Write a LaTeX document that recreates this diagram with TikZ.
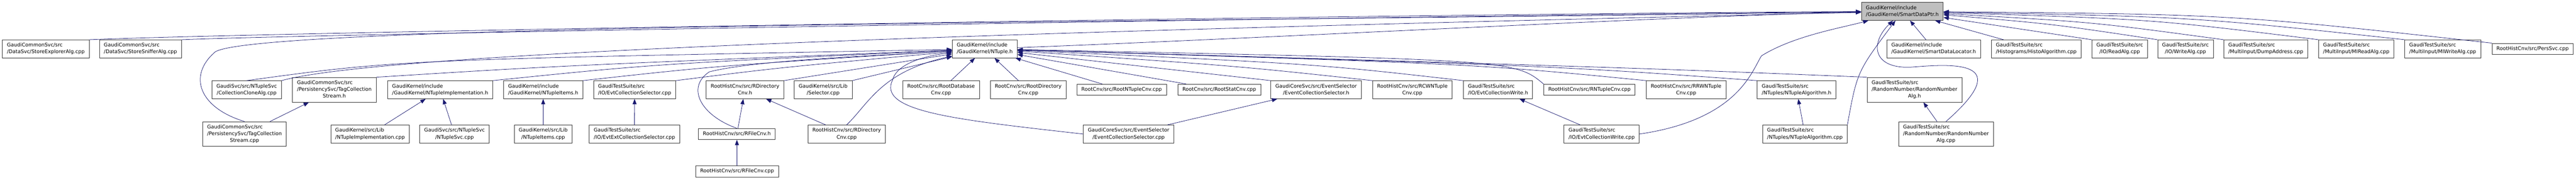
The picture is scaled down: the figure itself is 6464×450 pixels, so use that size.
\documentclass[tikz,border=0pt]{standalone}
\usepackage{fontspec}
\setmainfont{DejaVu Sans}
\usepackage{tikz}
\usetikzlibrary{arrows.meta}
\definecolor{edgeblue}{HTML}{191970}
\newcommand{\flbl}[2]{\begin{tabular}{@{}l@{}}#1\\\multicolumn{1}{@{}c@{}}{#2}\end{tabular}}
\newcommand{\olbl}[1]{\begin{tabular}{@{}c@{}}#1\end{tabular}}
\tikzstyle{srcfile} = [rectangle,draw=black!80,line width=0.75pt,fill=white,inner xsep=8.5pt,inner ysep=4.125pt,font=\fontsize{9.5}{12.75}\selectfont]
\tikzstyle{mainfile} = [srcfile,fill=black!25]
\tikzstyle{incarrow} = [draw=edgeblue,line width=0.75pt,-{Triangle[length=10pt,width=7.5pt]}]

\begin{document}
\begin{tikzpicture}[x=0.75pt,y=-0.75pt]
	\useasboundingbox (0,0) rectangle (6464,450);
	\node (ptr) [mainfile] at (4773.5,28.5) {\flbl{GaudiKernel/include}{/GaudiKernel/SmartDataPtr.h}};

	\node (explorer) [srcfile] at (115,122.5) {\flbl{GaudiCommonSvc/src}{/DataSvc/StoreExplorerAlg.cpp}};
	\node (sniffer) [srcfile] at (352.5,122.5) {\flbl{GaudiCommonSvc/src}{/DataSvc/StoreSnifferAlg.cpp}};
	\node (ntuple) [srcfile] at (2471,122.5) {\flbl{GaudiKernel/include}{/GaudiKernel/NTuple.h}};
	\node (locator) [srcfile] at (4852,122.5) {\flbl{GaudiKernel/include}{/GaudiKernel/SmartDataLocator.h}};
	\node (histo) [srcfile] at (5109.5,122.5) {\flbl{GaudiTestSuite/src}{/Histograms/HistoAlgorithm.cpp}};
	\node (readalg) [srcfile] at (5319,122.5) {\flbl{GaudiTestSuite/src}{/IO/ReadAlg.cpp}};
	\node (writealg) [srcfile] at (5484,122.5) {\flbl{GaudiTestSuite/src}{/IO/WriteAlg.cpp}};
	\node (dumpaddr) [srcfile] at (5685.5,122.5) {\flbl{GaudiTestSuite/src}{/MultiInput/DumpAddress.cpp}};
	\node (miread) [srcfile] at (5912.5,122.5) {\flbl{GaudiTestSuite/src}{/MultiInput/MIReadAlg.cpp}};
	\node (miwrite) [srcfile] at (6129.5,122.5) {\flbl{GaudiTestSuite/src}{/MultiInput/MIWriteAlg.cpp}};
	\node (perssvc) [srcfile] at (6355,122.5) {\olbl{RootHistCnv/src/PersSvc.cpp}};

	\node (clone) [srcfile] at (619,225) {\flbl{GaudiSvc/src/NTupleSvc}{/CollectionCloneAlg.cpp}};
	\node (tagh) [srcfile] at (839,225) {\flbl{GaudiCommonSvc/src\\/PersistencySvc/TagCollection}{Stream.h}};
	\node (implh) [srcfile] at (1104.5,225) {\flbl{GaudiKernel/include}{/GaudiKernel/NTupleImplementation.h}};
	\node (itemsh) [srcfile] at (1363,225) {\flbl{GaudiKernel/include}{/GaudiKernel/NTupleItems.h}};
	\node (evtsel) [srcfile] at (1592.5,225) {\flbl{GaudiTestSuite/src}{/IO/EvtCollectionSelector.cpp}};
	\node (rdirh) [srcfile] at (1869.5,225) {\flbl{RootHistCnv/src/RDirectory}{Cnv.h}};
	\node (selector) [srcfile] at (2065.5,225) {\flbl{GaudiKernel/src/Lib}{/Selector.cpp}};
	\node (rootdb) [srcfile] at (2361.5,225) {\flbl{RootCnv/src/RootDatabase}{Cnv.cpp}};
	\node (rootdir) [srcfile] at (2580,225) {\flbl{RootCnv/src/RootDirectory}{Cnv.cpp}};
	\node (rootnt) [srcfile] at (2814.5,225) {\olbl{RootCnv/src/RootNTupleCnv.cpp}};
	\node (rootstat) [srcfile] at (3059.5,225) {\olbl{RootCnv/src/RootStatCnv.cpp}};
	\node (evcolh) [srcfile] at (3302.5,225) {\flbl{GaudiCoreSvc/src/EventSelector}{/EventCollectionSelector.h}};
	\node (rcwnt) [srcfile] at (3544,225) {\flbl{RootHistCnv/src/RCWNTuple}{Cnv.cpp}};
	\node (evwriteh) [srcfile] at (3759,225) {\flbl{GaudiTestSuite/src}{/IO/EvtCollectionWrite.h}};
	\node (rntcnv) [srcfile] at (3988.5,225) {\olbl{RootHistCnv/src/RNTupleCnv.cpp}};
	\node (rrwnt) [srcfile] at (4231,225) {\flbl{RootHistCnv/src/RRWNTuple}{Cnv.cpp}};
	\node (ntalgh) [srcfile] at (4508,225) {\flbl{GaudiTestSuite/src}{/NTuples/NTupleAlgorithm.h}};
	\node (randh) [srcfile] at (4804,225) {\flbl{GaudiTestSuite/src\\/RandomNumber/RandomNumber}{Alg.h}};

	\node (tagcpp) [srcfile] at (613.5,336) {\flbl{GaudiCommonSvc/src\\/PersistencySvc/TagCollection}{Stream.cpp}};
	\node (implcpp) [srcfile] at (928.5,336) {\flbl{GaudiKernel/src/Lib}{/NTupleImplementation.cpp}};
	\node (ntsvc) [srcfile] at (1140.5,336) {\flbl{GaudiSvc/src/NTupleSvc}{/NTupleSvc.cpp}};
	\node (itemscpp) [srcfile] at (1363,336) {\flbl{GaudiKernel/src/Lib}{/NTupleItems.cpp}};
	\node (evtext) [srcfile] at (1592,336) {\flbl{GaudiTestSuite/src}{/IO/EvtExtCollectionSelector.cpp}};
	\node (rfileh) [srcfile] at (1849,336) {\olbl{RootHistCnv/src/RFileCnv.h}};
	\node (rdircpp) [srcfile] at (2124.5,336) {\flbl{RootHistCnv/src/RDirectory}{Cnv.cpp}};
	\node (evcolcpp) [srcfile] at (2832,336) {\flbl{GaudiCoreSvc/src/EventSelector}{/EventCollectionSelector.cpp}};
	\node (evwritecpp) [srcfile] at (4019,336) {\flbl{GaudiTestSuite/src}{/IO/EvtCollectionWrite.cpp}};
	\node (ntalgcpp) [srcfile] at (4529,336) {\flbl{GaudiTestSuite/src}{/NTuples/NTupleAlgorithm.cpp}};
	\node (randcpp) [srcfile] at (4883,336) {\flbl{GaudiTestSuite/src\\/RandomNumber/RandomNumber}{Alg.cpp}};

	\node (rfilecpp) [srcfile] at (1849.5,429.5) {\olbl{RootHistCnv/src/RFileCnv.cpp}};

	% includes of SmartDataPtr.h
	\draw [incarrow] (explorer.north east) .. controls (700,80) and (3500,35) .. (ptr);
	\draw [incarrow] (sniffer.north east) .. controls (800,85) and (3500,40) .. (ptr);
	\draw [incarrow] (clone.north east) .. controls (1000,120) and (3000,70) .. (ptr);
	\draw [incarrow] (tagcpp.north) .. controls (500,270) and (470,190) .. (540,130) .. controls (650,60) and (3000,55) .. (ptr);
	\draw [incarrow] (ntuple) .. controls (3200,95) and (4200,40) .. (ptr);
	\draw [incarrow] (locator) -- (ptr);
	\draw [incarrow] (histo) -- (ptr);
	\draw [incarrow] (readalg.north west) -- (ptr);
	\draw [incarrow] (writealg.north west) .. controls (5150,60) .. (ptr);
	\draw [incarrow] (dumpaddr.north west) .. controls (5250,55) .. (ptr);
	\draw [incarrow] (miread.north west) .. controls (5400,48) .. (ptr);
	\draw [incarrow] (miwrite.north west) .. controls (5500,42) .. (ptr);
	\draw [incarrow] (perssvc.north west) .. controls (5600,36) .. (ptr);
	\draw [incarrow] (evwritecpp.east) .. controls (4360,300) and (4395,180) .. (4420,140) .. controls (4500,90) and (4620,70) .. (ptr);
	\draw [incarrow] (ntalgcpp.north east) .. controls (4660,180) .. (ptr);
	\draw [incarrow] (randcpp.north) .. controls (5060,150) and (4900,160) .. (4800,168) .. controls (4700,175) and (4690,110) .. (ptr);

	% includes of NTuple.h
	\draw [incarrow] (clone.north) .. controls (1000,150) .. (ntuple);
	\draw [incarrow] (tagh.north east) .. controls (1400,165) .. (ntuple);
	\draw [incarrow] (implh.north east) .. controls (1650,160) .. (ntuple);
	\draw [incarrow] (itemsh.north east) .. controls (1800,165) .. (ntuple);
	\draw [incarrow] (evtsel.north east) .. controls (1950,170) .. (ntuple);
	\draw [incarrow] (rfileh.north) .. controls (1760,290) and (1720,220) .. (1780,180) .. controls (1900,150) and (2200,140) .. (ntuple);
	\draw [incarrow] (rdirh.north east) -- (ntuple);
	\draw [incarrow] (selector.north east) -- (ntuple);
	\draw [incarrow] (rdircpp.north) .. controls (2180,260) and (2210,180) .. (ntuple);
	\draw [incarrow] (evcolcpp.west) .. controls (2400,300) and (2200,280) .. (2240,200) .. controls (2250,160) and (2320,140) .. (ntuple);
	\draw [incarrow] (rootdb) -- (ntuple);
	\draw [incarrow] (rootdir) -- (ntuple);
	\draw [incarrow] (rootnt) -- (ntuple);
	\draw [incarrow] (rootstat) -- (ntuple);
	\draw [incarrow] (evcolh.north west) -- (ntuple);
	\draw [incarrow] (rcwnt.north west) .. controls (3100,165) .. (ntuple);
	\draw [incarrow] (evwriteh.north west) .. controls (3300,160) .. (ntuple);
	\draw [incarrow] (rntcnv.north west) .. controls (3800,150) .. (ntuple);
	\draw [incarrow] (rrwnt.north west) .. controls (3700,160) .. (ntuple);
	\draw [incarrow] (ntalgh.north west) .. controls (3900,165) .. (ntuple);
	\draw [incarrow] (randh.north west) .. controls (4100,170) .. (ntuple);

	% the other includes
	\draw [incarrow] (tagcpp) -- (tagh);
	\draw [incarrow] (implcpp) -- (implh);
	\draw [incarrow] (ntsvc) -- (implh);
	\draw [incarrow] (itemscpp) -- (itemsh);
	\draw [incarrow] (evtext) -- (evtsel);
	\draw [incarrow] (rfileh) -- (rdirh);
	\draw [incarrow] (rdircpp) -- (rdirh);
	\draw [incarrow] (rfilecpp) -- (rfileh);
	\draw [incarrow] (evcolcpp) -- (evcolh);
	\draw [incarrow] (evwritecpp) -- (evwriteh);
	\draw [incarrow] (ntalgcpp) -- (ntalgh);
	\draw [incarrow] (randcpp) -- (randh);
\end{tikzpicture}
\end{document}
